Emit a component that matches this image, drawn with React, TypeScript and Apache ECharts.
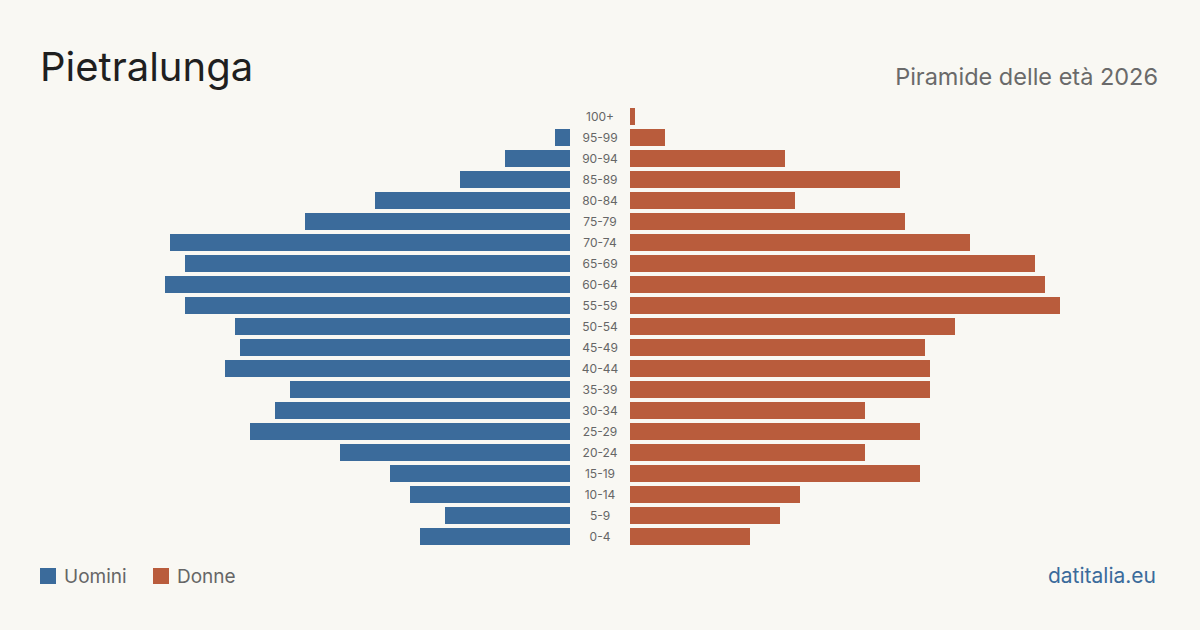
import React, { useEffect, useRef } from "react";
import * as echarts from "echarts";

const ageGroups = ["100+", "95-99", "90-94", "85-89", "80-84", "75-79", "70-74", "65-69", "60-64", "55-59", "50-54", "45-49", "40-44", "35-39", "30-34", "25-29", "20-24", "15-19", "10-14", "5-9", "0-4"];
const men = [0, 3, 13, 22, 39, 53, 80, 77, 81, 77, 67, 66, 69, 56, 59, 64, 46, 36, 32, 25, 30];
const women = [1, 7, 31, 54, 33, 55, 68, 81, 83, 86, 65, 59, 60, 60, 47, 58, 47, 58, 34, 30, 24];
const maxValue = 86;

const BLUE = "#3b6b9b";
const ORANGE = "#b95c3c";
const FONT = "Inter, 'Noto Sans', sans-serif";

export default function App() {
  const ref = useRef<HTMLDivElement>(null);
  useEffect(() => {
    if (!ref.current) return;
    const chart = echarts.init(ref.current, null, { renderer: "svg" });
    chart.setOption({
      animation: false,
      backgroundColor: "#f9f8f3",
      textStyle: { fontFamily: FONT },
      graphic: [
        { type: "text", x: 40, y: 46, style: { text: "Pietralunga", fontSize: 40, fill: "#1f1f1f", fontFamily: FONT } },
        { type: "text", x: 1158, y: 64, style: { text: "Piramide delle età 2026", fontSize: 23.5, fill: "#6a6a6a", fontFamily: FONT, textAlign: "right" } },
        { type: "rect", shape: { x: 40, y: 568, width: 16, height: 16 }, style: { fill: BLUE } },
        { type: "text", x: 64, y: 567, style: { text: "Uomini", fontSize: 19, fill: "#666", fontFamily: FONT } },
        { type: "rect", shape: { x: 153, y: 568, width: 16, height: 16 }, style: { fill: ORANGE } },
        { type: "text", x: 177, y: 567, style: { text: "Donne", fontSize: 19, fill: "#666", fontFamily: FONT } },
        { type: "text", x: 1156, y: 565, style: { text: "datitalia.eu", fontSize: 21, fill: BLUE, fontFamily: FONT, textAlign: "right" } },
      ],
      grid: [
        { left: 140, width: 430, top: 106, height: 441 },
        { left: 630, width: 430, top: 106, height: 441 },
      ],
      xAxis: [
        { gridIndex: 0, type: "value", min: 0, max: maxValue, inverse: true, show: false },
        { gridIndex: 1, type: "value", min: 0, max: maxValue, show: false },
      ],
      yAxis: [
        { gridIndex: 0, type: "category", data: ageGroups, inverse: true, show: false },
        {
          gridIndex: 1, type: "category", data: ageGroups, inverse: true,
          axisLine: { show: false }, axisTick: { show: false },
          axisLabel: { align: "center", margin: 30, fontSize: 12, color: "#666", fontFamily: FONT },
        },
      ],
      series: [
        { name: "Uomini", type: "bar", xAxisIndex: 0, yAxisIndex: 0, data: men, barWidth: 17, itemStyle: { color: BLUE } },
        { name: "Donne", type: "bar", xAxisIndex: 1, yAxisIndex: 1, data: women, barWidth: 17, itemStyle: { color: ORANGE } },
      ],
    });
    return () => chart.dispose();
  }, []);
  return <div ref={ref} style={{ width: 1200, height: 630, position: "absolute", left: 0, top: 0 }} />;
}
